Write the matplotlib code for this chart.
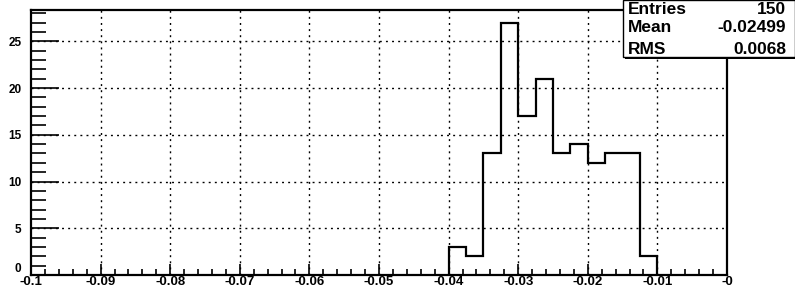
import numpy as np
import matplotlib.pyplot as plt
from matplotlib.patches import Rectangle
from matplotlib.ticker import MultipleLocator

# histogram contents (bin width 0.0025)
bin_edges = np.round(np.arange(-0.04, -0.01 + 1e-9, 0.0025), 5)
counts = [3, 2, 13, 27, 17, 21, 13, 14, 12, 13, 13, 2]
x_ticks = [-0.1, -0.09, -0.08, -0.07, -0.06, -0.05, -0.04, -0.03, -0.02, -0.01, 0.0]
x_labels = ["-0.1", "-0.09", "-0.08", "-0.07", "-0.06", "-0.05", "-0.04", "-0.03", "-0.02", "-0.01", "-0"]
y_ticks = [0, 5, 10, 15, 20, 25]
stats_names = ["Entries", "Mean", "RMS"]
stats_values = ["150", "-0.02499", "0.0068"]

plt.rcParams['font.family'] = ['Liberation Sans', 'DejaVu Sans']
plt.rcParams['font.weight'] = 'bold'

fig = plt.figure(figsize=(7.95, 2.9), dpi=100)
ax = fig.add_axes([31 / 795, 1 - 275 / 290, (727 - 31) / 795, (275 - 10) / 290])

ax.stairs(counts, bin_edges, baseline=0, color="black", linewidth=1.6, zorder=3)

ax.set_xlim(-0.1, 0.0)
ax.set_ylim(0, 28.35)

ax.set_xticks(x_ticks)
ax.set_xticklabels(x_labels)
ax.set_yticks(y_ticks)
ax.xaxis.set_minor_locator(MultipleLocator(0.002))
ax.yaxis.set_minor_locator(MultipleLocator(1))

ax.tick_params(axis="x", which="major", direction="in", length=8, width=1.2, pad=1, labelsize=9.5)
ax.tick_params(axis="x", which="minor", direction="in", length=4, width=1.2)
ax.tick_params(axis="y", which="major", direction="in", length=20, width=1.2, pad=7, labelsize=8.5)
ax.tick_params(axis="y", which="minor", direction="in", length=11, width=1.2)

# y "0" label sits a bit higher than its tick
ylabs = ax.get_yticklabels()
ylabs[0].set_verticalalignment("bottom")

for s in ax.spines.values():
    s.set_linewidth(1.6)

for gx in x_ticks[1:-1]:
    ax.axvline(gx, color="black", linewidth=1.0, linestyle=(0, (1.4, 3.0)), zorder=1)
for gy in y_ticks[1:]:
    ax.axhline(gy, color="black", linewidth=1.0, linestyle=(0, (1.4, 3.0)), zorder=1)

# stats box
x0, y0 = 623 / 795, 1 - 57 / 290
fig.patches.append(Rectangle((x0 + 2 / 795, y0 - 2 / 290), 1 - x0, 1 - y0, transform=fig.transFigure,
                             facecolor="black", edgecolor="none", zorder=5))
fig.patches.append(Rectangle((x0, y0), 1 - x0, 1 - y0, transform=fig.transFigure,
                             facecolor="white", edgecolor="black", linewidth=1.0, zorder=6))
row_y = [9, 27, 49]
for name, val, ry in zip(stats_names, stats_values, row_y):
    fig.text(628 / 795, 1 - ry / 290, name, fontsize=12.5, fontweight="bold",
             ha="left", va="center", zorder=7)
    fig.text(786 / 795, 1 - ry / 290, val, fontsize=12.5, fontweight="bold",
             ha="right", va="center", zorder=7)

fig.savefig("out.png", dpi=100)
